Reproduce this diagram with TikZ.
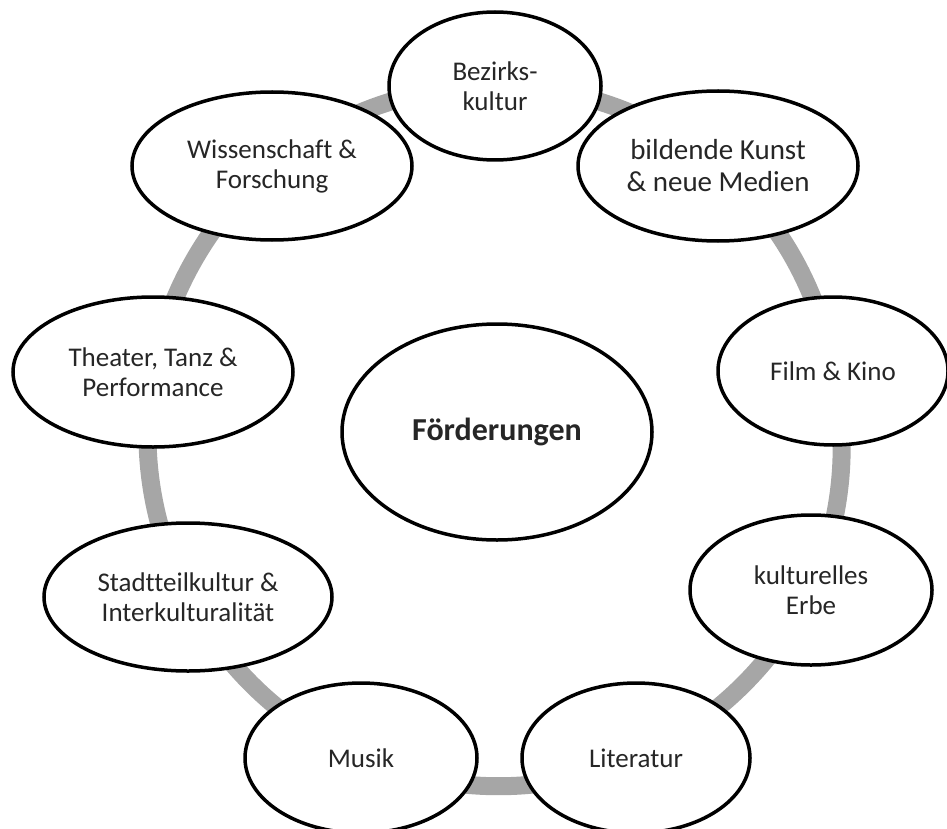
\documentclass[tikz,border=0pt]{standalone}
\usepackage{fontspec}
\setmainfont{Carlito}[Ligatures=NoCommon]
\usetikzlibrary{shapes.geometric, backgrounds}

\begin{document}
\begin{tikzpicture}[
    x=1pt, y=-1pt,
    ringLine/.style={line width=18pt, black!35, line cap=butt}, % 灰色圆环（连接各领域）
    fieldBubble/.style={ellipse, draw=black, line width=3.5pt, fill=white, inner sep=0pt, align=center, text=black!85, font=\fontsize{27}{30}\selectfont}, % 领域椭圆
    hubBubble/.style={fieldBubble, font=\fontsize{32}{36}\selectfont\bfseries}, % 中心椭圆
]
    \useasboundingbox (0,0) rectangle (947,829);

    % 1. 中心节点
    \node[hubBubble, minimum width=310pt, minimum height=216pt] (foerd) at (497,432) {Förderungen};

    % 2. 环上的九个领域（顺时针）
    \node[fieldBubble, minimum width=212pt, minimum height=148pt] (bez) at (495,86) {Bezirks-\\kultur};
    \node[fieldBubble, minimum width=280pt, minimum height=150pt, font=\fontsize{29}{32}\selectfont] (kunst) at (718,166) {bildende Kunst\\\& neue Medien};
    \node[fieldBubble, minimum width=230pt, minimum height=148pt] (film) at (833,371) {Film \& Kino};
    \node[fieldBubble, minimum width=242pt, minimum height=150pt] (erbe) at (811,590) {kulturelles\\Erbe};
    \node[fieldBubble, minimum width=228pt, minimum height=150pt] (lit) at (636,758) {Literatur};
    \node[fieldBubble, minimum width=232pt, minimum height=150pt] (musik) at (361,758) {Musik};
    \node[fieldBubble, minimum width=288pt, minimum height=148pt] (stadt) at (188,597) {Stadtteilkultur \&\\Interkulturalität};
    \node[fieldBubble, minimum width=280pt, minimum height=150pt] (theater) at (153,372) {Theater, Tanz \&\\Performance};
    \node[fieldBubble, minimum width=280pt, minimum height=148pt] (wiss) at (272,166) {Wissenschaft \&\\Forschung};

    % 3. 在背景层绘制圆环
    \begin{scope}[on background layer]
        \foreach \a/\b/\w in {bez/kunst/20, kunst/film/20, film/erbe/18.5, erbe/lit/20, lit/musik/23.5, musik/stadt/20, stadt/theater/19, theater/wiss/19.5, wiss/bez/20}
            \draw[ringLine] (\a.center) to[bend left=\w, looseness=0.88] (\b.center);
    \end{scope}
\end{tikzpicture}
\end{document}
